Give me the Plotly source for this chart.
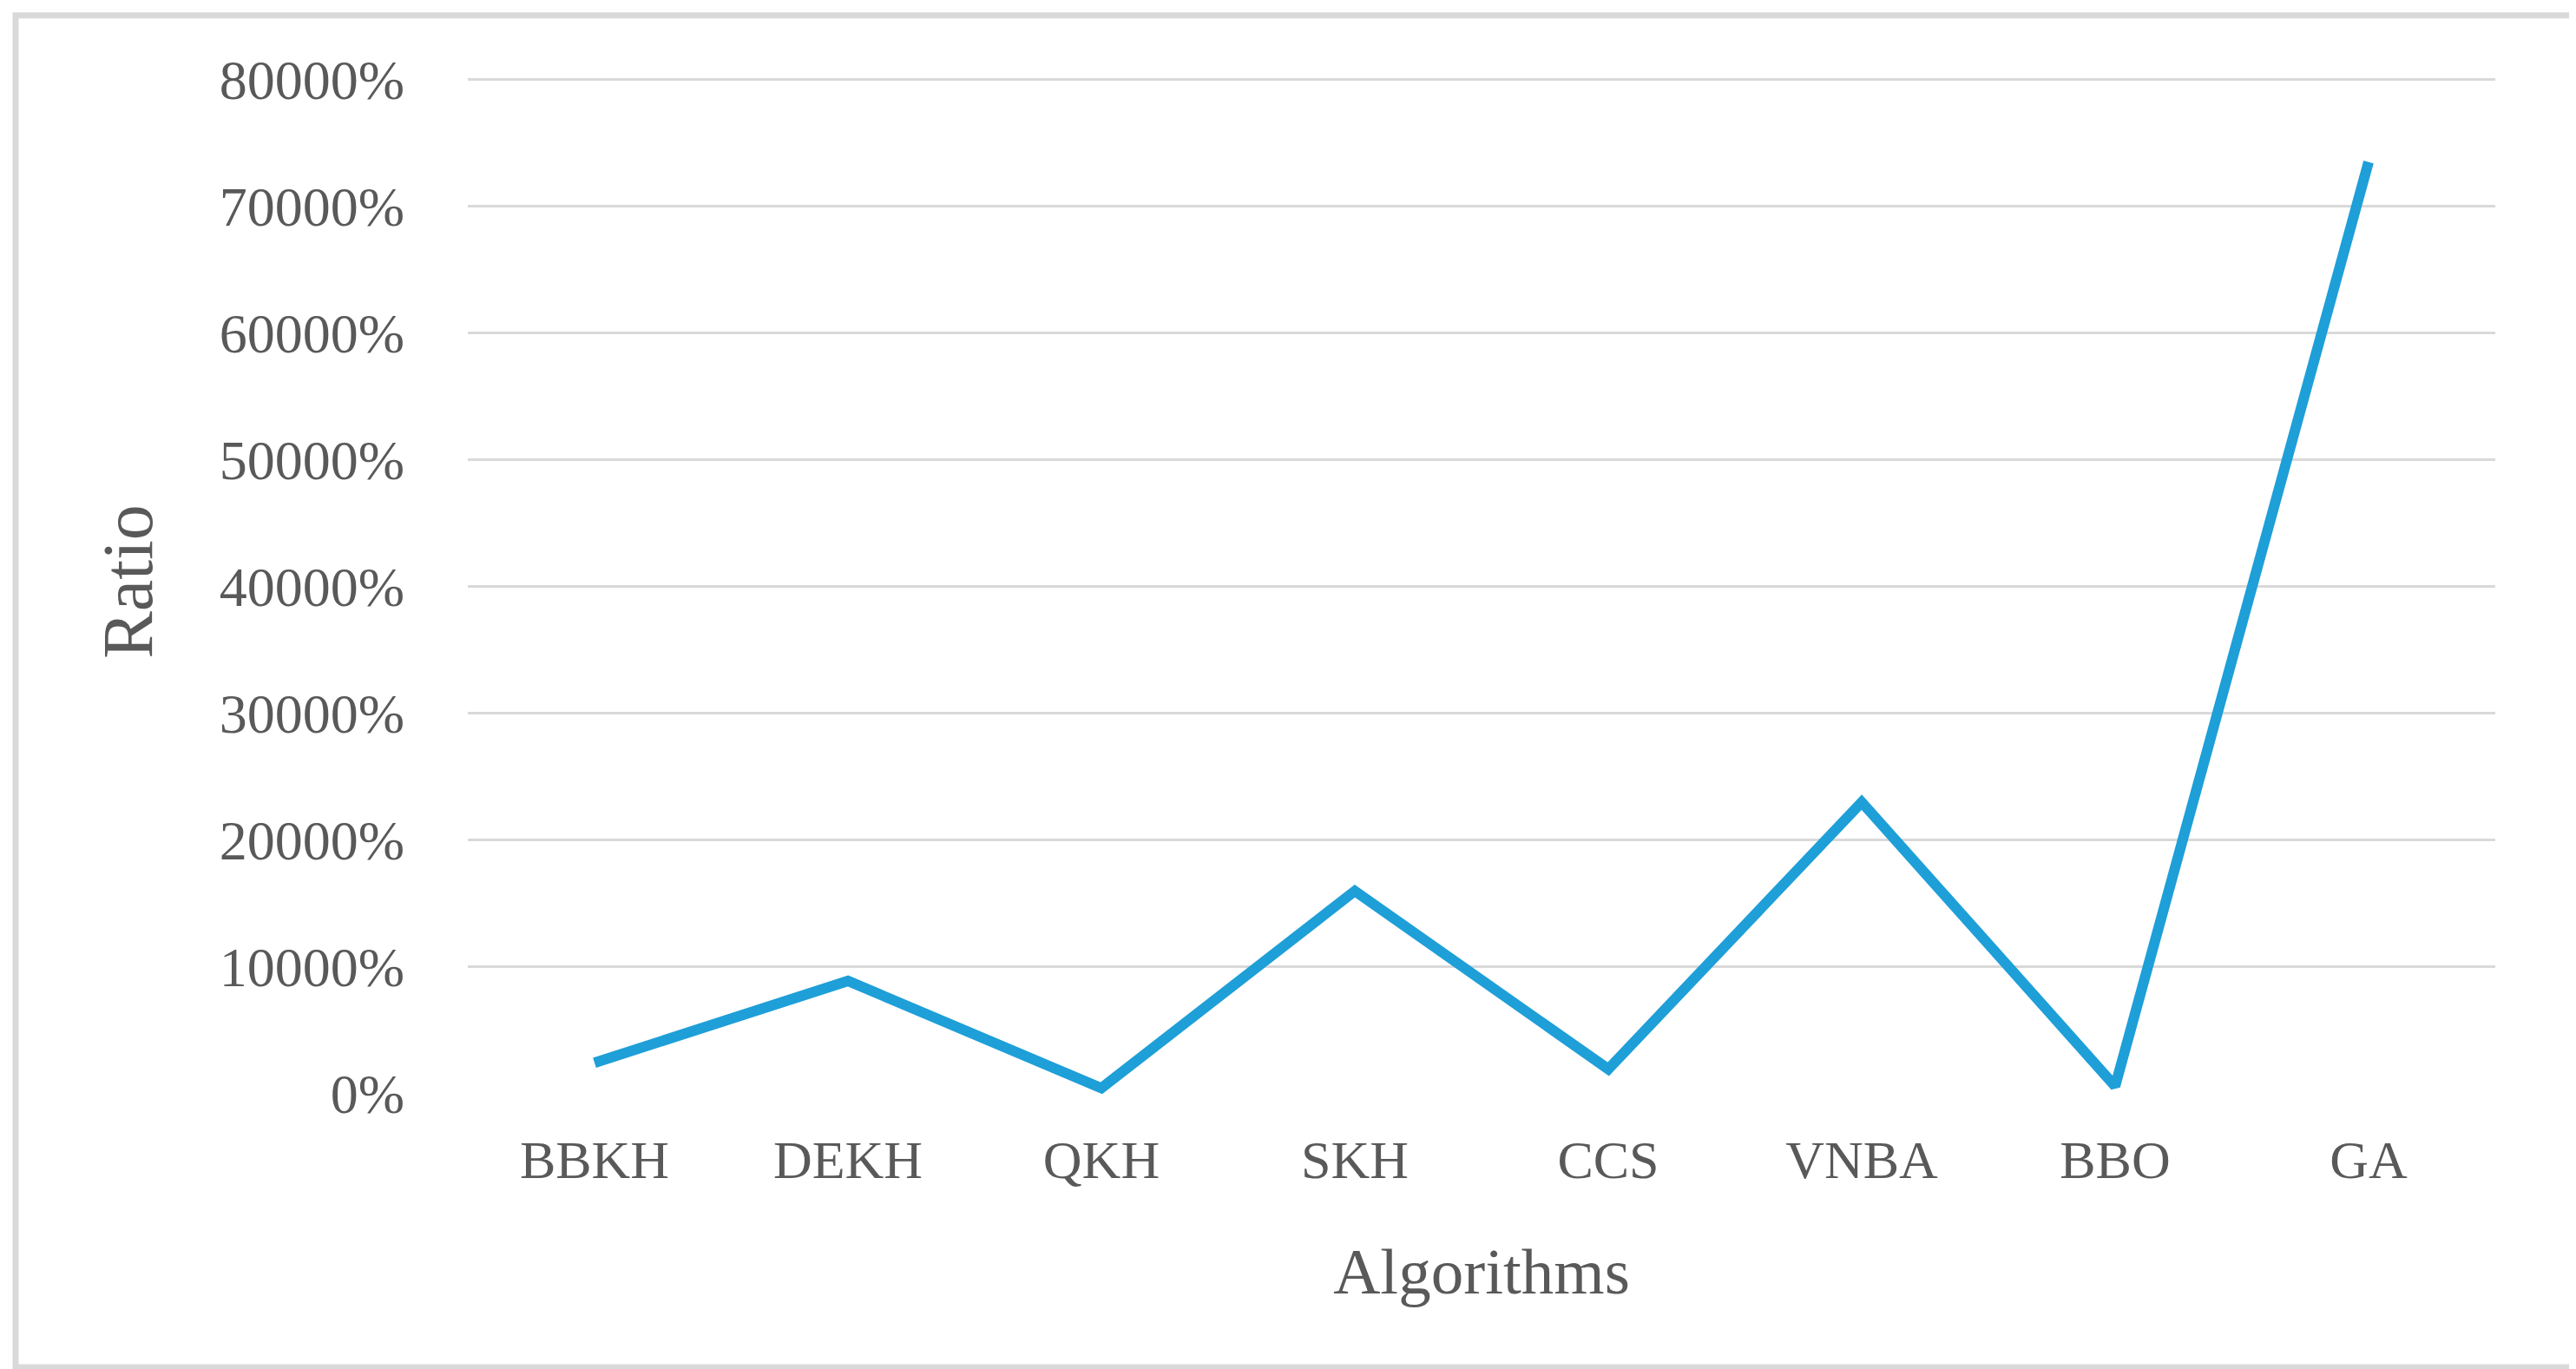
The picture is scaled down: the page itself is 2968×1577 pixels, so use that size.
import plotly.graph_objects as go

# ---- data ----
algorithms = ["BBKH", "DEKH", "QKH", "SKH", "CCS", "VNBA", "BBO", "GA"]
ratio_pct = [2450, 8900, 450, 16000, 1950, 23000, 600, 73500]
y_tick_vals = [0, 10000, 20000, 30000, 40000, 50000, 60000, 70000, 80000]
y_tick_text = [f"{v}%" for v in y_tick_vals]
y_max = 80800

# ---- layout constants (pixels) ----
W, H = 2968, 1577
PL, PR, PB = 531, 2867, 1252
TOP_GRID = 84
PT = TOP_GRID - (y_max - 80000) * (PB - TOP_GRID) / 80000
FONT = "Palatino Linotype, Book Antiqua, Liberation Serif, serif"
TXT = "#595959"
GRID = "#d9d9d9"
LINE = "#1E9FD8"

pw, ph = PR - PL, PB - PT
def px2x(px):
    return (px - PL) / pw
def py2y(py):
    return (PB - py) / ph

fig = go.Figure()
fig.add_trace(go.Scatter(
    x=algorithms, y=ratio_pct, mode="lines",
    line=dict(color=LINE, width=12),
    showlegend=False, hoverinfo="x+y",
))

fig.update_layout(
    width=W, height=H,
    margin=dict(l=PL, r=W - PR, t=PT, b=H - PB, autoexpand=False),
    paper_bgcolor="white", plot_bgcolor="white",
    font=dict(family=FONT, color=TXT, size=62),
    xaxis=dict(
        type="category",
        range=[-0.5, len(algorithms) - 0.5],
        showgrid=False, zeroline=False, showline=False,
        tickfont=dict(family=FONT, size=62, color=TXT),
        ticklabelstandoff=34,
        title=dict(text="Algorithms", font=dict(family=FONT, size=75, color=TXT), standoff=68),
    ),
    yaxis=dict(
        range=[0, y_max],
        tickvals=y_tick_vals, ticktext=y_tick_text,
        showgrid=True, gridcolor=GRID, gridwidth=3,
        zeroline=False, showline=False,
        tickfont=dict(family=FONT, size=64, color=TXT),
        ticklabelstandoff=72,
        title=dict(text="Ratio", font=dict(family=FONT, size=82, color=TXT), standoff=49),
    ),
    shapes=[dict(
        type="rect", xref="paper", yref="paper", layer="below",
        x0=px2x(10), x1=px2x(2959), y0=py2y(1567), y1=py2y(10),
        line=dict(color=GRID, width=7), fillcolor="rgba(0,0,0,0)",
    )],
)

fig.write_html("out.html")
